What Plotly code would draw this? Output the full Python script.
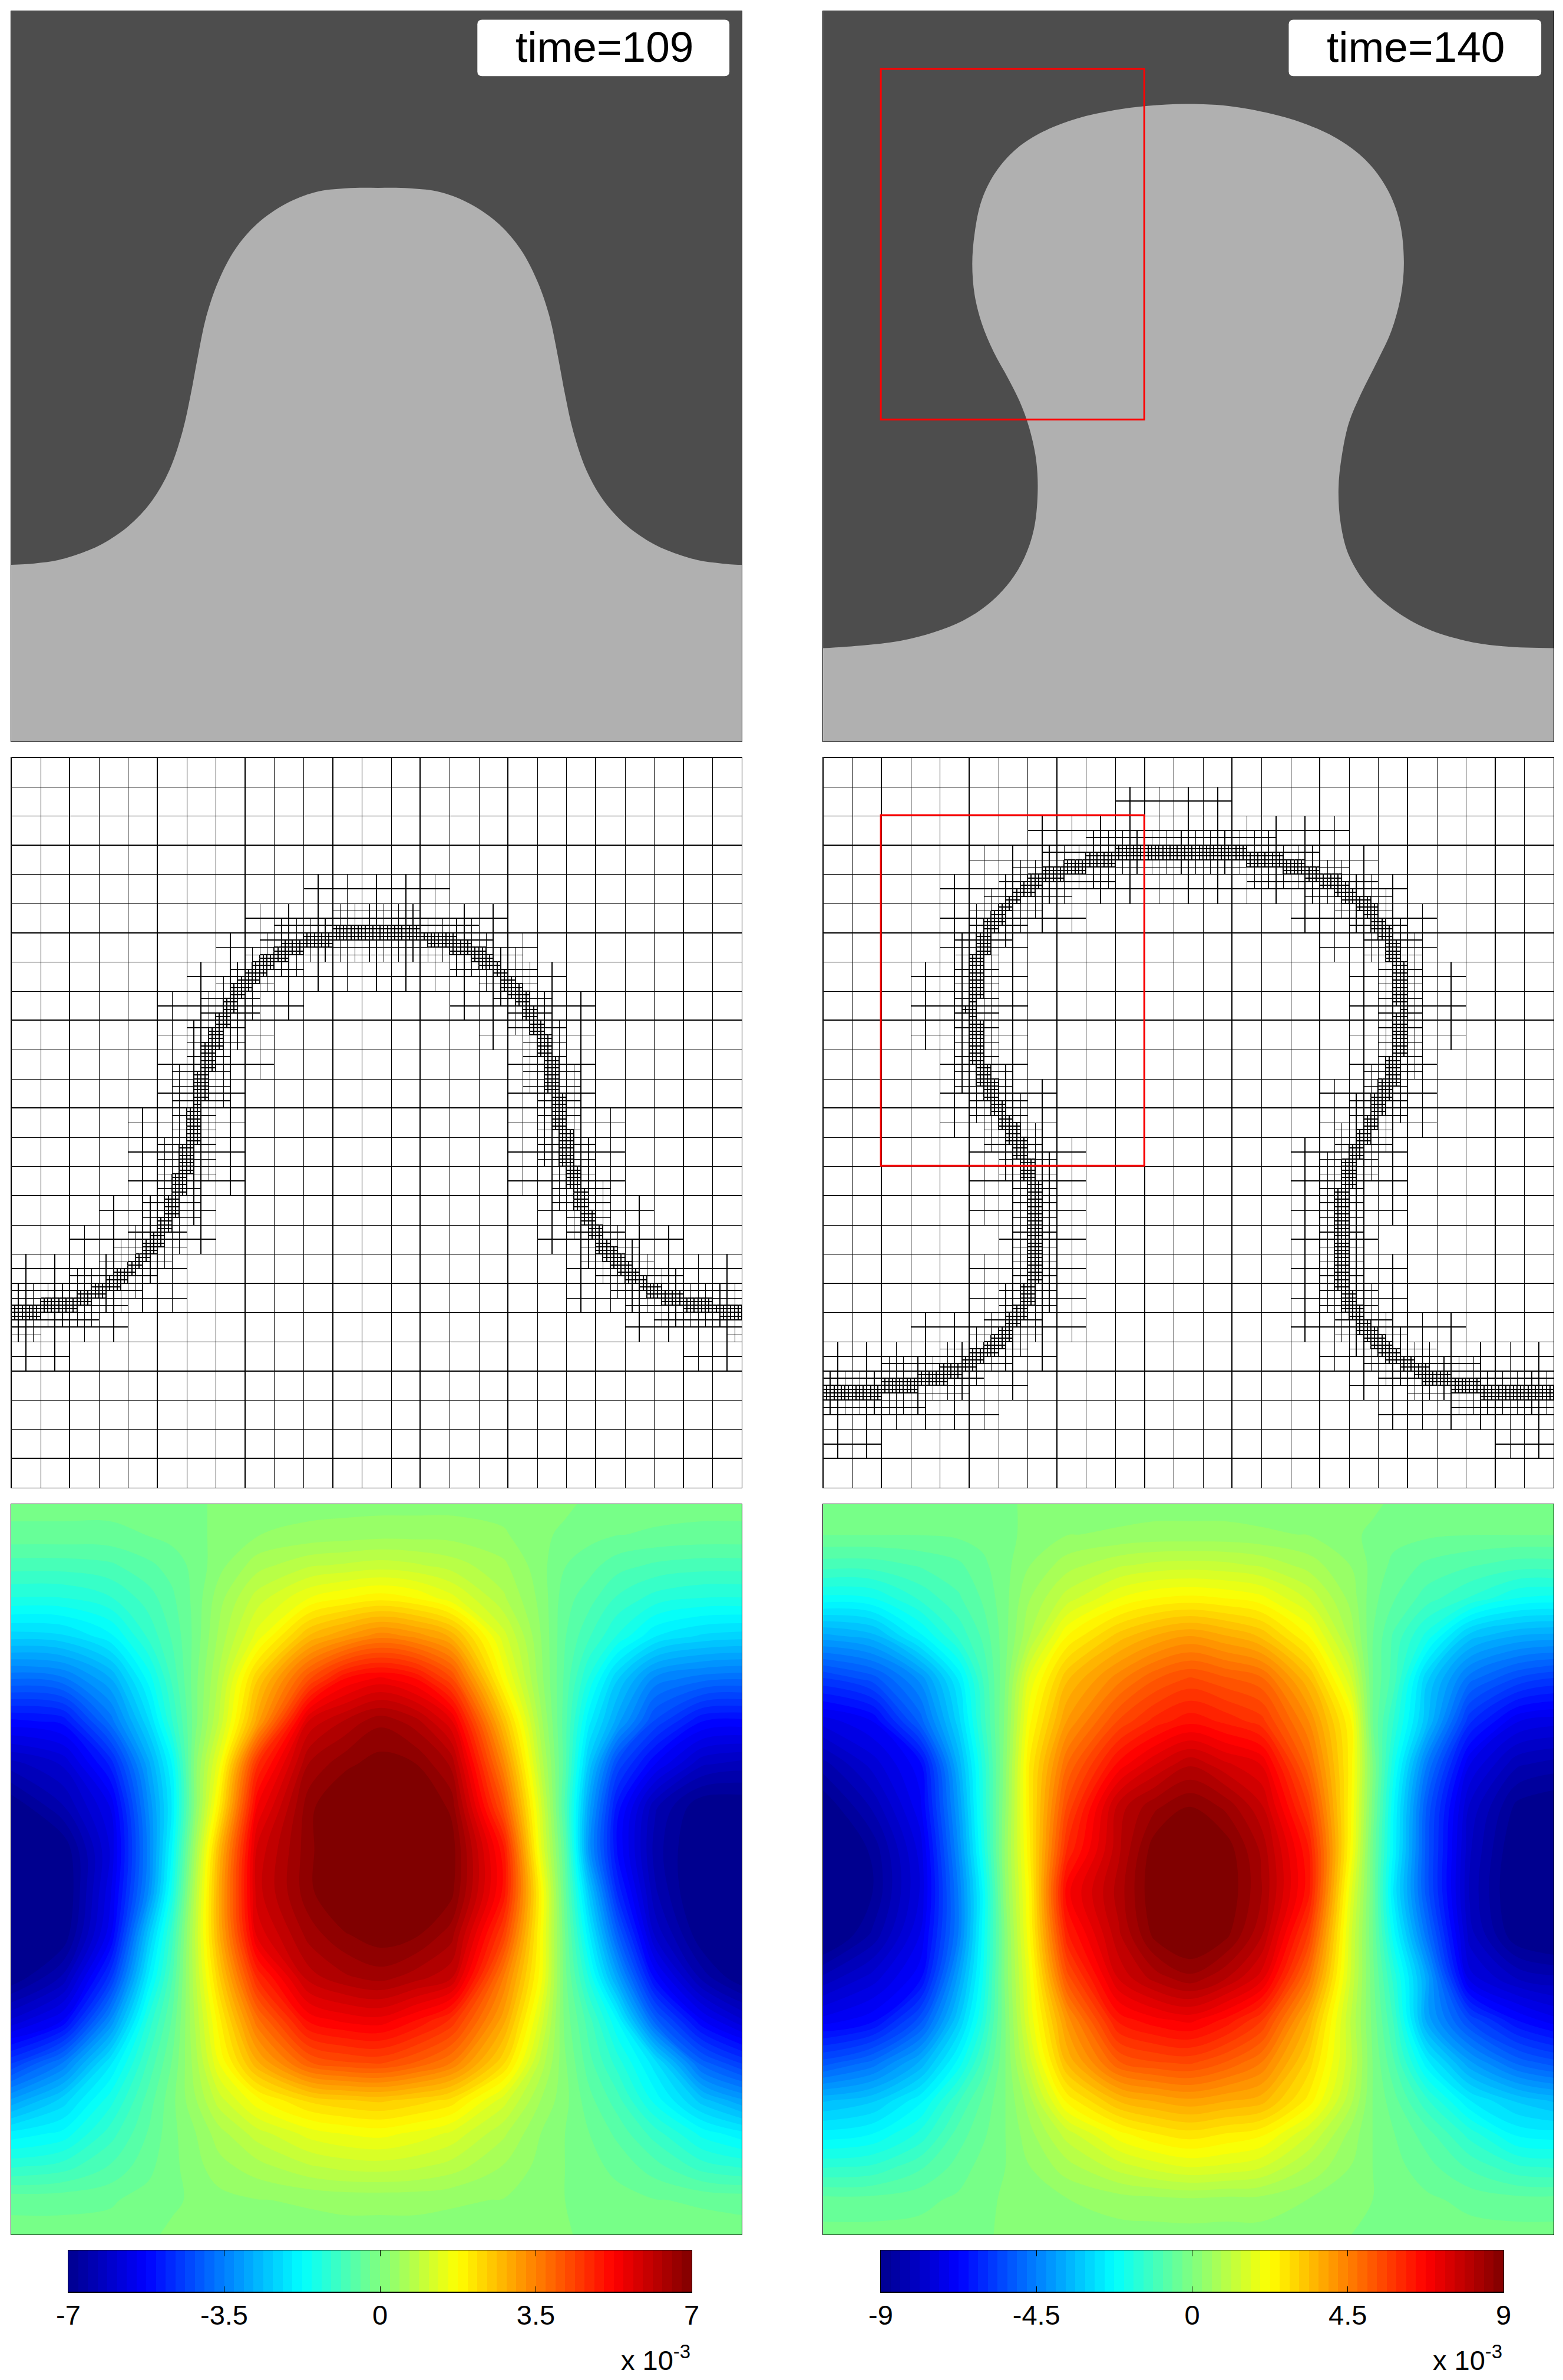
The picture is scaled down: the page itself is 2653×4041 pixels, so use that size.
import numpy as np
import plotly.graph_objects as go

FIG_W = 2653
FIG_H = 4041
PANEL = 1240       # panel size, pixels
READ = 1542        # panel size in the units the curves and fields are read in

# interface, time=109 (x, y, y downwards, panel spans 11..1553)
curve_109_x = [11, 60, 110, 165, 205, 260, 308, 345, 373, 390, 405, 423, 448, 483, 530, 590, 653, 717, 785,
               853, 917, 980, 1040, 1087, 1122, 1147, 1165, 1180, 1197, 1225, 1262, 1310, 1365, 1405, 1460, 1510, 1553]
curve_109_y = [1180, 1177, 1170, 1153, 1135, 1097, 1045, 980, 897, 820, 740, 655, 582, 515, 460, 418, 393, 385, 384,
               385, 393, 418, 460, 515, 582, 655, 740, 820, 897, 980, 1045, 1097, 1135, 1153, 1170, 1177, 1180]

# interface, time=140 (panel spans x 15..1557, y 11..1553)
curve_140_x = [15, 100, 180, 250, 310, 365, 410, 440, 460, 468, 465, 450, 430, 405, 375, 350, 335, 330, 335,
               350, 380, 425, 480, 550, 630, 700, 780, 860, 950, 1030, 1100, 1160, 1205, 1232, 1241, 1235,
               1215, 1185, 1150, 1125, 1110, 1103, 1108, 1125, 1165, 1220, 1290, 1370, 1450, 1557]
curve_140_y = [1356, 1350, 1340, 1322, 1298, 1262, 1215, 1165, 1105, 1030, 960, 890, 835, 785, 730, 670, 610, 545, 480,
               410, 350, 300, 265, 238, 220, 211, 207, 210, 225, 248, 280, 325, 385, 455, 540, 610,
               685, 750, 820, 880, 950, 1020, 1095, 1160, 1225, 1275, 1315, 1340, 1352, 1356]

# red box of the right column
box_x = [137, 693]
box_y = [133, 873]

field_rows = [11, 75, 140, 210, 290, 380, 470, 560, 650, 740, 830, 920, 1010, 1100, 1190, 1270, 1340, 1410, 1480, 1553]

# field at time=109, percent of the colour limit
field_109_cols = [11, 120, 220, 300, 350, 400, 450, 530, 640, 715, 790, 865, 940, 1050, 1130, 1180, 1230, 1290, 1370, 1470, 1553]
field_109 = [
    [-2, -2, -2, -2, -2, -1, 1, 2, 2, 2, 2, 2, 2, 2, 2, 1, -1, -2, -2, -2, -2],
    [-4, -4, -4, -3, -2, -1, 1, 3, 4, 4.5, 5, 5, 5, 3.5, 1, -1, -2, -3, -3.5, -4, -4],
    [-11, -11, -10, -7, -5, -2, 2, 8, 12, 13, 14, 13, 11, 7, 1, -3, -5, -8, -10, -11, -11],
    [-19, -19, -16, -11, -7, -2, 5, 14, 22, 25, 27, 25, 20, 10, 2, -5, -8, -13, -17, -19, -19],
    [-33, -32, -26, -15, -9, -2, 7, 20, 38, 44, 49, 46, 40, 17, 3, -6, -12, -19, -28, -32, -33],
    [-53, -51, -41, -24, -12, -1, 10, 34, 59, 72, 76, 72, 60, 24, 4, -7, -19, -34, -48, -52, -53],
    [-73, -71, -52, -32, -16, -1, 13, 42, 82, 88, 93, 89, 79, 37, 7, -8, -27, -42, -60, -72, -73],
    [-89, -84, -68, -42, -25, 2, 21, 65, 91, 96, 98.5, 97, 90, 48, 11, -8, -35, -60, -75, -87, -89],
    [-100, -91, -78, -47, -28, 2, 28, 75, 96, 101, 103, 102, 96, 58, 16, -10, -42, -70, -90, -100, -100],
    [-103, -100, -81, -49, -25, 7, 38, 82, 96, 102, 104, 103, 99, 70, 19, -7, -45, -72, -92, -102, -103],
    [-104, -102, -79, -47, -21, 11, 41, 83, 96, 102, 104, 103, 98, 71, 25, -5, -35, -66, -90, -103, -104],
    [-103, -100, -76, -36, -14, 13, 40, 79, 92, 96.5, 99, 97.5, 92, 62, 24, -3, -27, -55, -85, -100, -103],
    [-100, -90, -64, -28, -10, 12, 34, 66, 86, 90, 92, 89, 85, 50, 23, -2, -19, -42, -73, -92, -100],
    [-84, -75, -47, -18, -6, 10, 27, 52, 73, 76, 77, 72, 65, 42, 17, -1, -11, -25, -55, -75, -84],
    [-63, -50, -29, -12, -3, 8, 22, 40, 56, 59, 60, 56, 50, 32, 11, 0.5, -8, -17, -30, -55, -63],
    [-43, -33, -20, -8, -1, 6, 14, 24, 32, 34, 35, 33, 30, 17, 6, 1, -5, -11, -23, -36, -43],
    [-27, -24, -14, -6, -1, 3, 8, 14, 20, 22, 23, 21, 18, 10, 3, 0, -3, -7, -14, -23, -27],
    [-16, -14, -9, -4, -1, 2, 5, 8, 12, 13.5, 14, 13, 11, 6, 2, 0, -2, -4, -8, -14, -16],
    [-4, -4, -3.5, -2, -1, 1, 2, 3, 3.5, 4, 4, 4, 3.5, 3, 1, 0, -1, -2, -3, -3.5, -4],
    [-2, -2, -2, -1, 1, 2, 2, 2, 2, 2, 2, 2, 2, 2, 2, 1, -2, -2, -2, -2, -2],
]

# field at time=140
field_140_cols = [15, 120, 220, 300, 350, 400, 450, 530, 640, 715, 790, 865, 940, 1040, 1130, 1175, 1220, 1290, 1380, 1480, 1557]
field_140 = [
    [-2, -2, -2, -2, -2, -1, 1, 2, 2, 2, 2, 2, 2, 2, 2, 1, -1, -2, -2, -2, -2],
    [-3, -3, -3, -2.5, -2, -1, 1, 3, 3.5, 4, 4, 4, 3.5, 3, 1, -1, -2, -2.5, -3, -3, -3],
    [-11, -11, -9, -7, -4, -1, 3, 8, 12, 13.5, 14, 13.5, 12, 8, 3, -1, -4, -7, -9, -11, -11],
    [-23, -22, -15, -10, -6, -1, 6, 14, 22, 25, 26, 25, 23, 15, 5, -2, -6, -11, -16, -22, -23],
    [-42, -39, -26, -15, -9, -1, 9, 25, 36, 41, 44, 41, 37, 25, 8, -3, -10, -20, -36, -41, -42],
    [-63, -58, -46, -28, -13, 0, 19, 37, 49, 56, 60, 57, 54, 38, 16, -3, -11, -34, -52, -60, -63],
    [-80, -75, -55, -33, -15, 1, 24, 44, 60, 67, 71, 68, 64, 47, 25, -3, -16, -37, -65, -78, -80],
    [-92, -83, -73, -40, -19, 2, 28, 53, 73, 81, 87, 82, 78, 54, 26, 0, -21, -50, -78, -90, -92],
    [-100, -90, -76, -44, -20, 3, 28, 60, 86, 93, 97, 93, 85, 62, 25, -1, -25, -57, -85, -98, -100],
    [-104, -96, -80, -47, -22, 4, 27, 66, 87, 99, 102, 99, 90, 69, 24, -3, -26, -58, -87, -101, -104],
    [-104, -97, -81, -50, -26, 3, 25, 74, 89, 100, 103, 100, 91, 70, 19, -3, -29, -58, -88, -102, -104],
    [-103, -93, -78, -50, -25, 1, 24, 68, 87, 98, 102, 98, 88, 62, 16, -3, -24, -52, -86, -100, -103],
    [-90, -83, -73, -43, -23, 1, 21, 58, 82, 89, 93, 88, 80, 52, 15, -2, -17, -42, -80, -88, -90],
    [-77, -73, -58, -35, -19, 0, 19, 45, 70, 74, 76, 71, 63, 40, 12, -1, -13, -42, -60, -72, -77],
    [-58, -52, -40, -24, -12, 0, 14, 38, 56, 59, 60, 56, 50, 33, 13, 0, -9, -27, -43, -54, -58],
    [-38, -35, -26, -13, -6, 0, 8, 26, 38, 41, 43, 41, 39, 27, 10, 0, -5, -15, -28, -35, -38],
    [-27, -25, -18, -8, -4, 0, 5, 14, 24, 28, 30, 28, 26, 16, 5, 0, -3, -8, -17, -26, -27],
    [-16, -15, -10, -5, -2, 0, 3, 8, 14, 17, 19, 18, 16, 9, 3, 0, -2, -5, -10, -15, -16],
    [-5, -5, -4, -2.5, -1, 0.5, 1, 3, 4.5, 5, 5.5, 5, 5, 3, 1, 0, -1, -2.5, -4, -5, -5],
    [-2, -2, -2, -2, -1, 1, 2, 2, 2, 2, 2, 2, 2, 2, 0, -1, -2, -2, -2, -2, -2],
]

limit_109 = 7
limit_140 = 9
ticks_109 = ['-7', '-3.5', '0', '3.5', '7']
ticks_140 = ['-9', '-4.5', '0', '4.5', '9']
time_labels = ['time=109', 'time=140']

jet = [[0, 'rgb(0,0,143)'], [0.125, 'rgb(0,0,255)'], [0.375, 'rgb(0,255,255)'],
       [0.625, 'rgb(255,255,0)'], [0.875, 'rgb(255,0,0)'], [1, 'rgb(128,0,0)']]

DARK = '#4d4d4d'
LIGHT = '#b0b0b0'
FONT = 'Liberation Sans'

# panel origins, pixels
col_x = [19, 1397]
row_y = [19, 1286, 2554]
read_x0 = [11, 15]
read_y0 = 11
bar_x = [(116, 1174), (1495, 2552)]
bar_y = (3821, 3892)

# mesh: cells of the finest level are 1/8 of a base cell, 25 base cells per side
FINE = PANEL / 200
refine_px = [90, 42, 12]
thick_x = {2, 4, 7, 9, 12, 14, 16, 19, 21}
thick_y = {0, 2, 5, 10, 12, 15, 20, 22}


def dom_x(a, b):
    return [a / FIG_W, b / FIG_W]


def dom_y(a, b):
    return [1 - b / FIG_H, 1 - a / FIG_H]


def curve_dist(px, py, cx, cy):
    ax, ay = cx[:-1], cy[:-1]
    dx, dy = cx[1:] - ax, cy[1:] - ay
    t = np.clip(((px - ax) * dx + (py - ay) * dy) / (dx * dx + dy * dy), 0, 1)
    return np.min(np.hypot(ax + t * dx - px, ay + t * dy - py))


def mesh_edges(cx, cy):
    edges = set()

    def split(i, j, size, level):
        d = curve_dist((i + size / 2) * FINE, (j + size / 2) * FINE, cx, cy)
        if level < 3 and d < refine_px[level]:
            h = size // 2
            for a, b in ((i, j), (i + h, j), (i, j + h), (i + h, j + h)):
                split(a, b, h, level + 1)
            return
        edges.add(('v', i, j, j + size))
        edges.add(('v', i + size, j, j + size))
        edges.add(('h', j, i, i + size))
        edges.add(('h', j + size, i, i + size))

    for i in range(25):
        for j in range(25):
            split(i * 8, j * 8, 8, 0)
    return edges


def to_read(n, thick, lo):
    p = round(n * FINE) + (0 if thick else 0.5)
    return lo + p * READ / PANEL


def mesh_traces(edges, x0, y0, xaxis, yaxis):
    xs = {True: [], False: []}
    ys = {True: [], False: []}
    for kind, pos, a, b in sorted(edges):
        # the finest cells print with heavy lines in the reference
        if kind == 'v':
            t = pos % 24 in thick_x or b - a == 1
            xs[t] += [to_read(pos, t, x0), to_read(pos, t, x0), None]
            ys[t] += [to_read(a, False, y0), to_read(b, False, y0), None]
        else:
            t = pos % 24 in thick_y or b - a == 1
            ys[t] += [to_read(pos, t, y0), to_read(pos, t, y0), None]
            xs[t] += [to_read(a, False, x0), to_read(b, False, x0), None]
    return [go.Scatter(x=xs[t], y=ys[t], mode='lines', xaxis=xaxis, yaxis=yaxis, hoverinfo='skip',
                       line=dict(color='black', width=2 if t else 1, simplify=False)) for t in (False, True)]


def rounded_box(x0, x1, y0, y1, r=10):
    return (f'M {x0 + r} {y0} L {x1 - r} {y0} Q {x1} {y0} {x1} {y0 + r} L {x1} {y1 - r} Q {x1} {y1} {x1 - r} {y1} '
            f'L {x0 + r} {y1} Q {x0} {y1} {x0} {y1 - r} L {x0} {y0 + r} Q {x0} {y0} {x0 + r} {y0} Z')


fig = go.Figure()
layout = dict(width=FIG_W, height=FIG_H, margin=dict(l=0, r=0, t=0, b=0, autoexpand=False), autosize=False,
              paper_bgcolor='white', plot_bgcolor='white', showlegend=False,
              font=dict(family=FONT, color='black'), shapes=[], annotations=[])


def panel_axes(n, x_px, y_px, xr, yr):
    base = dict(showgrid=False, zeroline=False, showticklabels=False, ticks='', showline=True, mirror=True,
                linecolor='black', linewidth=1, fixedrange=True)
    suffix = '' if n == 1 else str(n)
    layout['xaxis' + suffix] = dict(base, domain=dom_x(*x_px), range=xr, anchor='y' + suffix)
    layout['yaxis' + suffix] = dict(base, domain=dom_y(*y_px), range=yr, anchor='x' + suffix)
    return ('x' + suffix, 'y' + suffix)


curves = [(curve_109_x, curve_109_y), (curve_140_x, curve_140_y)]
fields = [(field_109_cols, field_109, limit_109), (field_140_cols, field_140, limit_140)]
tick_sets = [ticks_109, ticks_140]

n = 1
for c in range(2):
    x0 = read_x0[c]
    xr = [x0, x0 + READ]
    yr = [read_y0 + READ, read_y0]
    cxr = np.array(curves[c][0], float)
    cyr = np.array(curves[c][1], float)

    # top row: two grey phases
    xa, ya = panel_axes(n, (col_x[c], col_x[c] + PANEL), (row_y[0], row_y[0] + PANEL), xr, yr)
    layout['shapes'].append(dict(type='rect', xref=xa + ' domain', yref=ya + ' domain', x0=0, x1=1, y0=0, y1=1,
                                 fillcolor=LIGHT, line_width=0, layer='below'))
    fig.add_trace(go.Scatter(x=list(cxr) + [x0 + READ + 300, x0 + READ + 300, x0 - 300, x0 - 300],
                             y=list(cyr) + [cyr[-1], -300, -300, cyr[0]],
                             mode='lines', fill='toself', fillcolor=DARK, hoverinfo='skip',
                             line=dict(color=DARK, width=0, shape='spline', smoothing=1, simplify=False),
                             xaxis=xa, yaxis=ya))
    bx0, bx1 = (995, 1527) if c == 0 else (998, 1531)
    layout['shapes'].append(dict(type='path', xref=xa, yref=ya, path=rounded_box(bx0, bx1, 29, 148),
                                 fillcolor='white', line_width=0, layer='above'))
    layout['annotations'].append(dict(text=time_labels[c], xref=xa, yref=ya, x=(bx0 + bx1) / 2 + 2, y=86, showarrow=False,
                                      xanchor='center', yanchor='middle', font=dict(size=73, family=FONT, color='black')))
    if c == 1:
        layout['shapes'].append(dict(type='rect', xref=xa, yref=ya, x0=box_x[0], x1=box_x[1], y0=box_y[0], y1=box_y[1],
                                     line=dict(color='#ff0000', width=3), layer='above'))
    n += 1

    # middle row: adaptive mesh around the same interface
    xa, ya = panel_axes(n, (col_x[c], col_x[c] + PANEL), (row_y[1], row_y[1] + PANEL), xr, yr)
    edges = mesh_edges((cxr - x0) * PANEL / READ, (cyr - read_y0) * PANEL / READ)
    for tr in mesh_traces(edges, x0, read_y0, xa, ya):
        fig.add_trace(tr)
    if c == 1:
        layout['shapes'].append(dict(type='rect', xref=xa, yref=ya, x0=box_x[0], x1=box_x[1], y0=box_y[0], y1=box_y[1],
                                     line=dict(color='#ff0000', width=3), layer='above'))
    n += 1

    # bottom row: banded field
    cols, rows_pct, lim = fields[c]
    xa, ya = panel_axes(n, (col_x[c], col_x[c] + PANEL), (row_y[2], row_y[2] + PANEL), xr, yr)
    band = 2 * lim / 64
    fig.add_trace(go.Contour(x=cols, y=field_rows, z=np.array(rows_pct) / 100 * lim, colorscale=jet, zmin=-lim, zmax=lim,
                             autocontour=False, contours=dict(start=-lim + band, end=lim - band, size=band, coloring='fill',
                                                              showlines=False),
                             line=dict(width=0, smoothing=1), showscale=False, hoverinfo='skip', xaxis=xa, yaxis=ya))
    n += 1

    # colour bar
    xa, ya = panel_axes(n, bar_x[c], bar_y, [-lim, lim], [-0.5, 0.5])
    mids = (np.arange(64) + 0.5) / 64 * 2 * lim - lim
    fig.add_trace(go.Heatmap(x=mids, y=[0], z=[mids], colorscale=jet, zmin=-lim, zmax=lim, showscale=False,
                             hoverinfo='skip', xaxis=xa, yaxis=ya))
    key = 'xaxis' + xa[1:]
    layout[key].update(showticklabels=True, ticks='inside', ticklen=10, tickwidth=1, tickcolor='black', mirror='ticks',
                       tickmode='array', tickvals=[-lim, -lim / 2, 0, lim / 2, lim], ticktext=tick_sets[c],
                       tickfont=dict(size=47, family=FONT, color='black'), ticklabelstandoff=-2)
    layout['shapes'].append(dict(type='line', xref=xa + ' domain', yref=ya + ' domain', x0=0, x1=1, y0=0, y1=0,
                                 line=dict(color='black', width=2), layer='above'))
    layout['annotations'].append(dict(text='x 10<sup>-3</sup>', xref='paper', yref='paper', x=bar_x[c][1] / FIG_W,
                                      y=1 - 4036 / FIG_H, showarrow=False, xanchor='right', yanchor='bottom',
                                      font=dict(size=47, family=FONT, color='black')))
    n += 1

fig.update_layout(**layout)
fig.write_html("out.html", post_script="document.body.style.margin='0';", config=dict(displayModeBar=False))
